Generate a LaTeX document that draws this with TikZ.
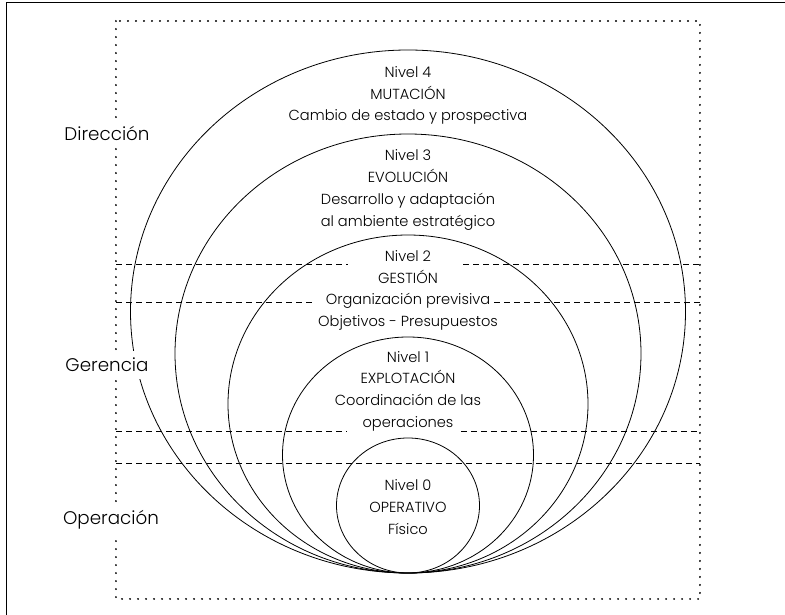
\documentclass[tikz,border=0pt]{standalone}
\usepackage{fontspec}
\setmainfont{Poppins}[UprightFont=* Light]
\usetikzlibrary{positioning}

\begin{document}
\begin{tikzpicture}[x=1pt, y=-1pt,
	level/.style={align=center, font=\fontsize{14.6}{21.7}\selectfont, inner sep=0pt},
	side/.style={fill=white, font=\fontsize{18.3}{20}\selectfont, inner xsep=1pt, inner ysep=7pt},
	band/.style={dash pattern=on 6pt off 4pt, line width=0.7pt},
	ring/.style={line width=0.8pt}]
	\useasboundingbox (0,0) rectangle (785,615);
	% frame
	\draw[line width=1pt] (6,615) |- (785,3);
	\draw[line width=2pt, dash pattern=on 0.1pt off 7.9pt, line cap=round] (116,21) rectangle (700,599);
	
	% Levels
	\draw[ring] (408,311.5) ellipse [x radius=277.5pt, y radius=261.5pt];
	\draw[ring] (408,353.5) ellipse [x radius=233pt, y radius=219.5pt];
	\draw[ring] (408,404) ellipse [x radius=180pt, y radius=169pt];
	\draw[ring] (408,455) ellipse [x radius=125.5pt, y radius=118pt];
	\draw[ring] (408,505.5) ellipse [x radius=71.5pt, y radius=67.5pt];
	
	\node[level] (n4) at (408,95.5) {Nivel 4\\MUTACIÓN\\Cambio de estado y prospectiva};
	\node[level] (n3) at (408,190) {Nivel 3\\EVOLUCIÓN\\Desarrollo y adaptación\\al ambiente estratégico};
	\node[level] (n2) at (408,290.5) {Nivel 2\\GESTIÓN\\Organización previsiva\\Objetivos - Presupuestos};
	\node[level] (n1) at (408,391) {Nivel 1\\EXPLOTACIÓN\\Coordinación de las\\operaciones};
	\node[level] (n0) at (408,507) {Nivel 0\\OPERATIVO\\Físico};
	
	% Bands
	\coordinate (a1) at (116,264); \coordinate (a2) at (348,264);
	\coordinate (a3) at (463,264); \coordinate (a4) at (700,264);
	\coordinate (b1) at (116,302); \coordinate (b2) at (313,302);
	\coordinate (b3) at (494,302); \coordinate (b4) at (700,302);
	\coordinate (c1) at (116,431); \coordinate (c2) at (347,431);
	\coordinate (c3) at (461,431); \coordinate (c4) at (700,431);
	\coordinate (d1) at (116,463); \coordinate (d2) at (700,463);
	\draw[band] (a1) -- (a2) (a3) -- (a4);
	\draw[band] (b1) -- (b2) (b3) -- (b4);
	\draw[band] (c1) -- (c2) (c3) -- (c4);
	\draw[band] (d1) -- (d2);
	
	\node[side] (dir) at (107,133) {Dirección};
	\node[side] (ger) at (107,365) {Gerencia};
	\node[side] (ope) at (111,520) {Operación};
\end{tikzpicture}
\end{document}
